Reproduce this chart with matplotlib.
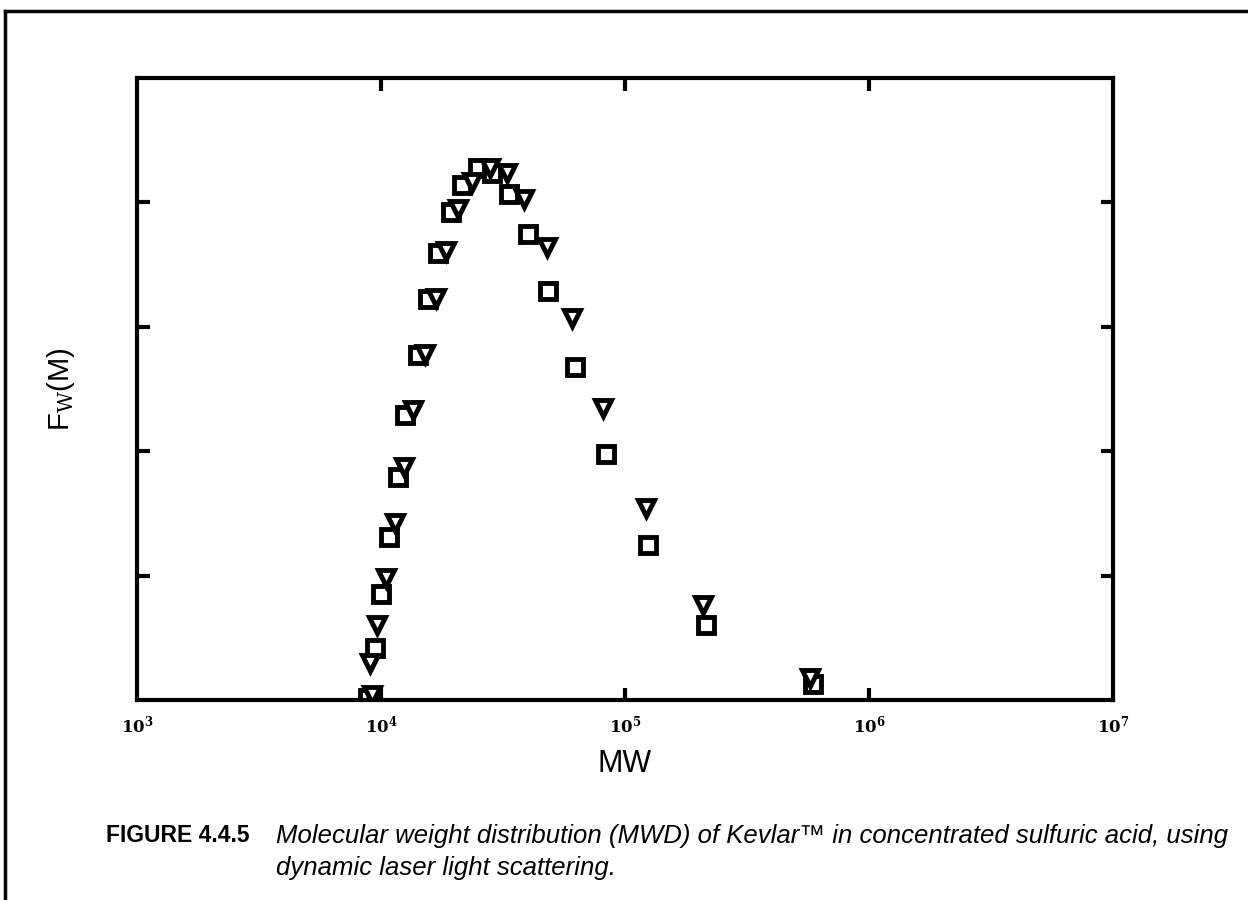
import matplotlib
matplotlib.use("Agg")
import matplotlib.pyplot as plt
from matplotlib.lines import Line2D
import numpy as np

# data (MW, Fw(M) in tick units)
mw_sq = [8850, 9450, 10000, 10780, 11740, 12540, 14180, 15580, 17130, 19360,
         21480, 24970, 28510, 33470, 40040, 48350, 62400, 83570, 124300,
         214800, 589600]
fw_sq = [0.02, 0.42, 0.85, 1.31, 1.79, 2.29, 2.77, 3.22, 3.59, 3.92,
         4.14, 4.28, 4.24, 4.07, 3.75, 3.29, 2.68, 1.98, 1.25,
         0.60, 0.13]

mw_tri = [9190, 9010, 9630, 10480, 11410, 12430, 13530, 15150, 16810, 18470,
          20690, 23600, 27970, 32840, 38560, 47890, 60660, 81240, 121960,
          208800, 573200]
fw_tri = [0.04, 0.30, 0.60, 0.98, 1.42, 1.87, 2.33, 2.78, 3.23, 3.61,
          3.95, 4.16, 4.28, 4.24, 4.03, 3.64, 3.07, 2.35, 1.54,
          0.76, 0.18]

x_ticks = [1e4, 1e5, 1e6]
x_labels = [1e3, 1e4, 1e5, 1e6, 1e7]
y_ticks = [1, 2, 3, 4]

plt.rcParams['mathtext.fontset'] = 'dejavuserif'

fig = plt.figure(figsize=(12.48, 9), dpi=100)
ax = fig.add_axes([137 / 1248, 1 - 700 / 900, 976 / 1248, 622 / 900])

ax.set_xscale('log')
ax.set_xlim(1e3, 1e7)
ax.set_ylim(0, 5)

ax.plot(mw_sq, fw_sq, linestyle='none', marker='s', markersize=11,
        markerfacecolor='white', markeredgecolor='black', markeredgewidth=3.5)
ax.plot(mw_tri, fw_tri, linestyle='none', marker='v', markersize=12,
        markerfacecolor='white', markeredgecolor='black', markeredgewidth=3.5)

for s in ax.spines.values():
    s.set_linewidth(3)

ax.xaxis.set_minor_locator(matplotlib.ticker.NullLocator())
ax.set_xticks(x_ticks)
ax.set_xticklabels([])
ax.set_yticks(y_ticks)
ax.set_yticklabels([])
ax.tick_params(which='both', direction='in', length=9, width=3,
               top=True, right=True)

# decade labels, including the two corners
for v in x_labels:
    e = int(round(np.log10(v)))
    ax.text(v, -0.12, r'$\mathbf{10^{%d}}$' % e, ha='center', va='top',
            fontsize=12)

ax.set_xlabel('MW', fontsize=22, family='Liberation Sans', labelpad=32)
ax.set_ylabel(r'F$_\mathrm{W}$(M)', fontsize=21, family='Liberation Sans',
              labelpad=40)

# caption
fig.text(106 / 1248, 1 - 836 / 900, 'FIGURE 4.4.5', fontsize=16.5,
         fontweight='bold', family='Liberation Sans', va='center')
fig.text(276 / 1248, 1 - 836 / 900,
         'Molecular weight distribution (MWD) of Kevlar\u2122 in concentrated sulfuric acid, using',
         fontsize=18.5, style='italic', family='Liberation Sans', va='center')
fig.text(276 / 1248, 1 - 868 / 900, 'dynamic laser light scattering.',
         fontsize=18.5, style='italic', family='Liberation Sans', va='center')

# page frame (top and left rules)
fig.add_artist(Line2D([5 / 1248, 1], [1 - 11 / 900, 1 - 11 / 900],
                      transform=fig.transFigure, color='black', linewidth=2.5))
fig.add_artist(Line2D([5 / 1248, 5 / 1248], [0, 1 - 11 / 900],
                      transform=fig.transFigure, color='black', linewidth=2.5))

fig.savefig('out.png', dpi=100)
